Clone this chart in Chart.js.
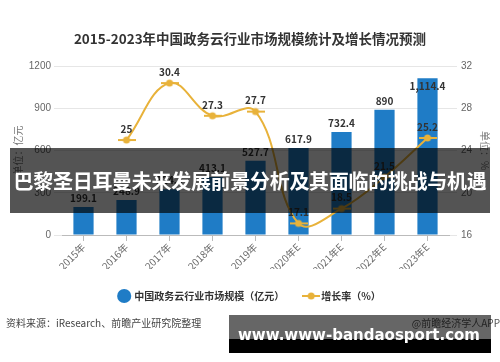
<!DOCTYPE html>
<html>
<head>
<meta charset="utf-8">
<script src="https://cdn.jsdelivr.net/npm/chart.js@4.4.1/dist/chart.umd.min.js"></script>
<style>
  html, body { margin: 0; padding: 0; background: #fff; }
  #wrap { position: relative; width: 500px; height: 362px; overflow: hidden; font-family: "Noto Sans CJK SC", "Noto Sans", sans-serif; }
  #c { position: absolute; left: 0; top: 0; }
  .src { position: absolute; left: 6px; top: 315px; font-size: 10px; color: #444; white-space: nowrap; line-height: 16px; }
  .app { position: absolute; right: 0px; top: 315px; font-size: 10px; color: #555; white-space: nowrap; line-height: 16px; }
  .band1 { position: absolute; left: 10px; top: 148px; width: 480px; height: 65px; background: rgba(0,0,0,0.67); }
  .band1 span { position: absolute; left: 0; width: 480px; top: 18px; text-align: center; color: #fff; font-weight: bold; font-size: 20px; line-height: 30px; white-space: nowrap; letter-spacing: -0.3px; }
  .band2 { position: absolute; left: 229px; top: 315px; width: 262px; height: 24px; background: rgba(0,0,0,0.6); }
  .band3 { position: absolute; left: 229px; top: 339px; width: 262px; height: 14px; background: #000; }
  .url { position: absolute; left: 238px; top: 323px; color: #fff; font-family: "DejaVu Sans", sans-serif; font-weight: bold; font-size: 16px; line-height: 24px; white-space: nowrap; transform-origin: 0 50%; }
</style>
</head>
<body>
<div id="wrap">
  <canvas id="c" width="500" height="362"></canvas>
  <div class="src">资料来源：iResearch、前瞻产业研究院整理</div>
  <div class="app">@前瞻经济学人APP</div>
  <div class="band1"><span>巴黎圣日耳曼未来发展前景分析及其面临的挑战与机遇</span></div>
  <div class="band2"></div>
  <div class="band3"></div>
  <div class="url" id="url">www.www-bandaosport.com</div>
</div>
<script>
const categories = ["2015年", "2016年", "2017年", "2018年", "2019年", "2020年E", "2021年E", "2022年E", "2023年E"];
const marketSize = [199.1, 248.9, 324.5, 413.1, 527.7, 617.9, 732.4, 890, 1114.4];
const growthRate = [null, 25, 30.4, 27.3, 27.7, 17.1, 18.5, 21.5, 25.2];
const leftTicks = [0, 300, 600, 900, 1200];
const rightTicks = [16, 20, 24, 28, 32];

const BLUE = "#1f7cc6";
const GOLD = "#e8b23a";
const CJK = '"Noto Sans CJK SC", "Noto Sans", sans-serif';

// legend icon for line series: line with a dot
const icon = document.createElement("canvas");
icon.width = 18; icon.height = 10;
(function(){
  const g = icon.getContext("2d");
  g.strokeStyle = GOLD; g.lineWidth = 2;
  g.beginPath(); g.moveTo(0,5); g.lineTo(18,5); g.stroke();
  g.fillStyle = GOLD; g.beginPath(); g.arc(9,5,3.5,0,Math.PI*2); g.fill();
})();

const valueLabels = {
  id: "valueLabels",
  afterDatasetsDraw(chart) {
    const ctx = chart.ctx;
    const top = chart.chartArea.top;
    ctx.save();
    ctx.textAlign = "center";
    ctx.font = "bold 10px " + CJK;
    ctx.fillStyle = "#333";
    chart.data.datasets.forEach((ds, i) => {
      const meta = chart.getDatasetMeta(i);
      meta.data.forEach((el, j) => {
        const v = ds.data[j];
        if (v === null || v === undefined) return;
        const isBar = ds.type === "bar";
        const txt = isBar ? v.toLocaleString("en-US") : String(v);
        const off = isBar ? 4 : 6;
        if (isBar && el.y - off - 12 < top) {
          ctx.textBaseline = "top";
          ctx.fillText(txt, el.x, el.y + 3);
        } else {
          ctx.textBaseline = "bottom";
          ctx.fillText(txt, el.x, el.y - off);
        }
      });
    });
    ctx.restore();
  }
};

new Chart(document.getElementById("c"), {
  data: {
    labels: categories,
    datasets: [
      {
        type: "line",
        label: "增长率（%）",
        data: growthRate,
        yAxisID: "y1",
        borderColor: GOLD,
        backgroundColor: GOLD,
        borderWidth: 2,
        pointRadius: 4,
        pointBackgroundColor: GOLD,
        pointBorderWidth: 0,
        tension: 0.4,
        pointStyle: icon,
        order: 0
      },
      {
        type: "bar",
        label: "中国政务云行业市场规模（亿元）",
        data: marketSize,
        yAxisID: "y",
        backgroundColor: BLUE,
        barPercentage: 0.47,
        categoryPercentage: 1,
        pointStyle: "circle",
        order: 1
      }
    ]
  },
  options: {
    responsive: false,
    animation: false,
    layout: { padding: { top: 0, left: 0, right: 0, bottom: 51 } },
    plugins: {
      title: {
        display: true,
        text: "2015-2023年中国政务云行业市场规模统计及增长情况预测",
        color: "#333",
        font: { family: CJK, size: 13.5, weight: "bold" },
        padding: { top: 31, bottom: 19 }
      },
      legend: {
        position: "bottom",
        reverse: true,
        labels: {
          usePointStyle: true,
          color: "#333",
          font: { family: CJK, size: 10, weight: "bold" },
          padding: 22,
          boxHeight: 10
        }
      },
      tooltip: { enabled: false }
    },
    scales: {
      x: {
        grid: { display: true, drawOnChartArea: false, offset: false, color: "#bbb", tickLength: 6 },
        border: { color: "#bbb" },
        ticks: { color: "#666", font: { family: CJK, size: 10 }, minRotation: 45, maxRotation: 45, padding: 0 },
        afterFit(s) { s.height = 34; }
      },
      y: {
        position: "left",
        min: 0, max: 1200,
        afterBuildTicks(s) { s.ticks = leftTicks.map(v => ({ value: v })); },
        grid: { color: "#e6e6e6", tickLength: 8 },
        border: { display: false },
        ticks: { color: "#666", font: { family: "Liberation Sans, sans-serif", size: 10 }, padding: 3, callback: v => String(v) },
        title: { display: true, text: "单位：亿元", color: "#777", font: { family: CJK, size: 10 }, padding: { top: 12, bottom: 0 } },
        afterFit(s) { s.width = 62; }
      },
      y1: {
        position: "right",
        min: 16, max: 32,
        afterBuildTicks(s) { s.ticks = rightTicks.map(v => ({ value: v })); },
        grid: { drawOnChartArea: false, color: "#e6e6e6", tickLength: 8 },
        border: { display: false },
        ticks: { color: "#666", font: { family: "Liberation Sans, sans-serif", size: 10 }, padding: 4, callback: v => String(v) },
        title: { display: true, text: "单位：%", color: "#777", font: { family: CJK, size: 10 }, padding: { top: 9, bottom: 0 } },
        afterFit(s) { s.width = 51; }
      }
    }
  },
  plugins: [valueLabels]
});

// fit url text to band width
(function(){
  const el = document.getElementById("url");
  const w = el.getBoundingClientRect().width;
  el.style.transform = "scaleX(" + (242 / w) + ")";
})();
</script>
</body>
</html>
